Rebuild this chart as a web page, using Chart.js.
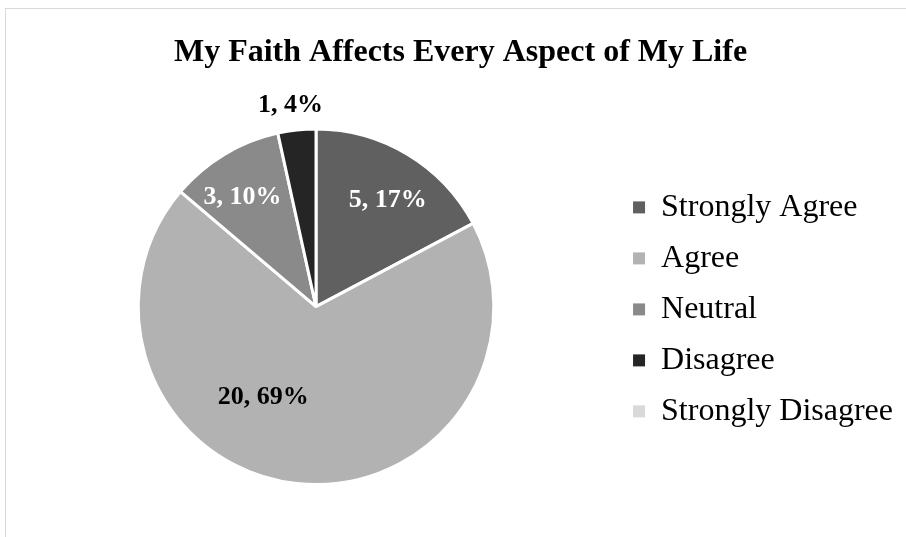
<!DOCTYPE html>
<html>
<head>
<meta charset="utf-8">
<script src="https://cdn.jsdelivr.net/npm/chart.js@4/dist/chart.umd.min.js"></script>
<style>
  html, body { margin: 0; padding: 0; background: #fff; }
  #frame { position: absolute; left: 5px; top: 8px; width: 1000px; height: 600px; border: 1px solid #d9d9d9; }
  #wrap { position: absolute; left: 0; top: 0; width: 906px; height: 537px; }
</style>
</head>
<body>
<div id="frame"></div>
<div id="wrap"><canvas id="pieChart" width="906" height="537"></canvas></div>
<script>
// data
const kategoriler = ["Strongly Agree", "Agree", "Neutral", "Disagree", "Strongly Disagree"];
const sayilar = [5, 20, 3, 1, 0];
const renkler = ["#606060", "#b2b2b2", "#8a8a8a", "#252525", "#d9d9d9"];
const etiketRenk = ["#ffffff", "#000000", "#ffffff", "#000000", "#000000"];
// label distance from centre (fraction of radius) and angle nudge (deg)
const etiketUzaklik = [0.72, 0.59, 0.74, 1.14, 0.7];
const etiketAci = [3, 24, -3, -1, 0];

const toplam = sayilar.reduce((a, b) => a + b, 0);

// faizler 100-ə tamamlansın (Excel kimi)
function faizler(d) {
  const xam = d.map(v => v / toplam * 100);
  const taban = xam.map(Math.floor);
  let qalan = 100 - taban.reduce((a, b) => a + b, 0);
  const sira = xam.map((v, i) => i).sort((a, b) => (xam[b] - taban[b]) - (xam[a] - taban[a]));
  for (let k = 0; k < qalan; k++) taban[sira[k]]++;
  return taban;
}
const yuzdeler = faizler(sayilar);

const etiketPlugin = {
  id: "etiketler",
  afterDatasetsDraw(chart) {
    const ctx = chart.ctx;
    const meta = chart.getDatasetMeta(0);
    ctx.save();
    ctx.font = "bold 26px 'Liberation Serif', 'Times New Roman', serif";
    ctx.textAlign = "center";
    ctx.textBaseline = "middle";
    meta.data.forEach((arc, i) => {
      if (!sayilar[i]) return;
      const p = arc.getProps(["x", "y", "startAngle", "endAngle", "outerRadius"], true);
      const aci = (p.startAngle + p.endAngle) / 2 + etiketAci[i] * Math.PI / 180;
      const r = p.outerRadius * etiketUzaklik[i];
      ctx.fillStyle = etiketRenk[i];
      ctx.fillText(sayilar[i] + ", " + yuzdeler[i] + "%", p.x + Math.cos(aci) * r, p.y + Math.sin(aci) * r);
    });
    ctx.restore();
  }
};

new Chart(document.getElementById("pieChart"), {
  type: "pie",
  data: {
    labels: kategoriler,
    datasets: [{
      data: sayilar,
      backgroundColor: renkler,
      borderColor: "#ffffff",
      borderWidth: 3
    }]
  },
  options: {
    responsive: false,
    animation: false,
    layout: { padding: { left: 18, right: 3, top: 0, bottom: 51 } },
    plugins: {
      title: {
        display: true,
        text: "My Faith Affects Every Aspect of My Life",
        color: "#000",
        font: { family: "'Liberation Serif', 'Times New Roman', serif", size: 32, weight: "bold" },
        padding: { top: 34, bottom: 55 }
      },
      legend: {
        position: "right",
        align: "start",
        title: { display: true, text: "", padding: 79, font: { size: 12 } },
        labels: {
          color: "#000",
          font: { family: "'Liberation Serif', 'Times New Roman', serif", size: 32 },
          boxWidth: 12,
          boxHeight: 12,
          padding: 19,
          generateLabels: chart =>
            Chart.overrides.pie.plugins.legend.labels.generateLabels(chart)
              .map(l => Object.assign(l, { lineWidth: 0 }))
        }
      },
      tooltip: { enabled: false }
    }
  },
  plugins: [etiketPlugin]
});
</script>
</body>
</html>
